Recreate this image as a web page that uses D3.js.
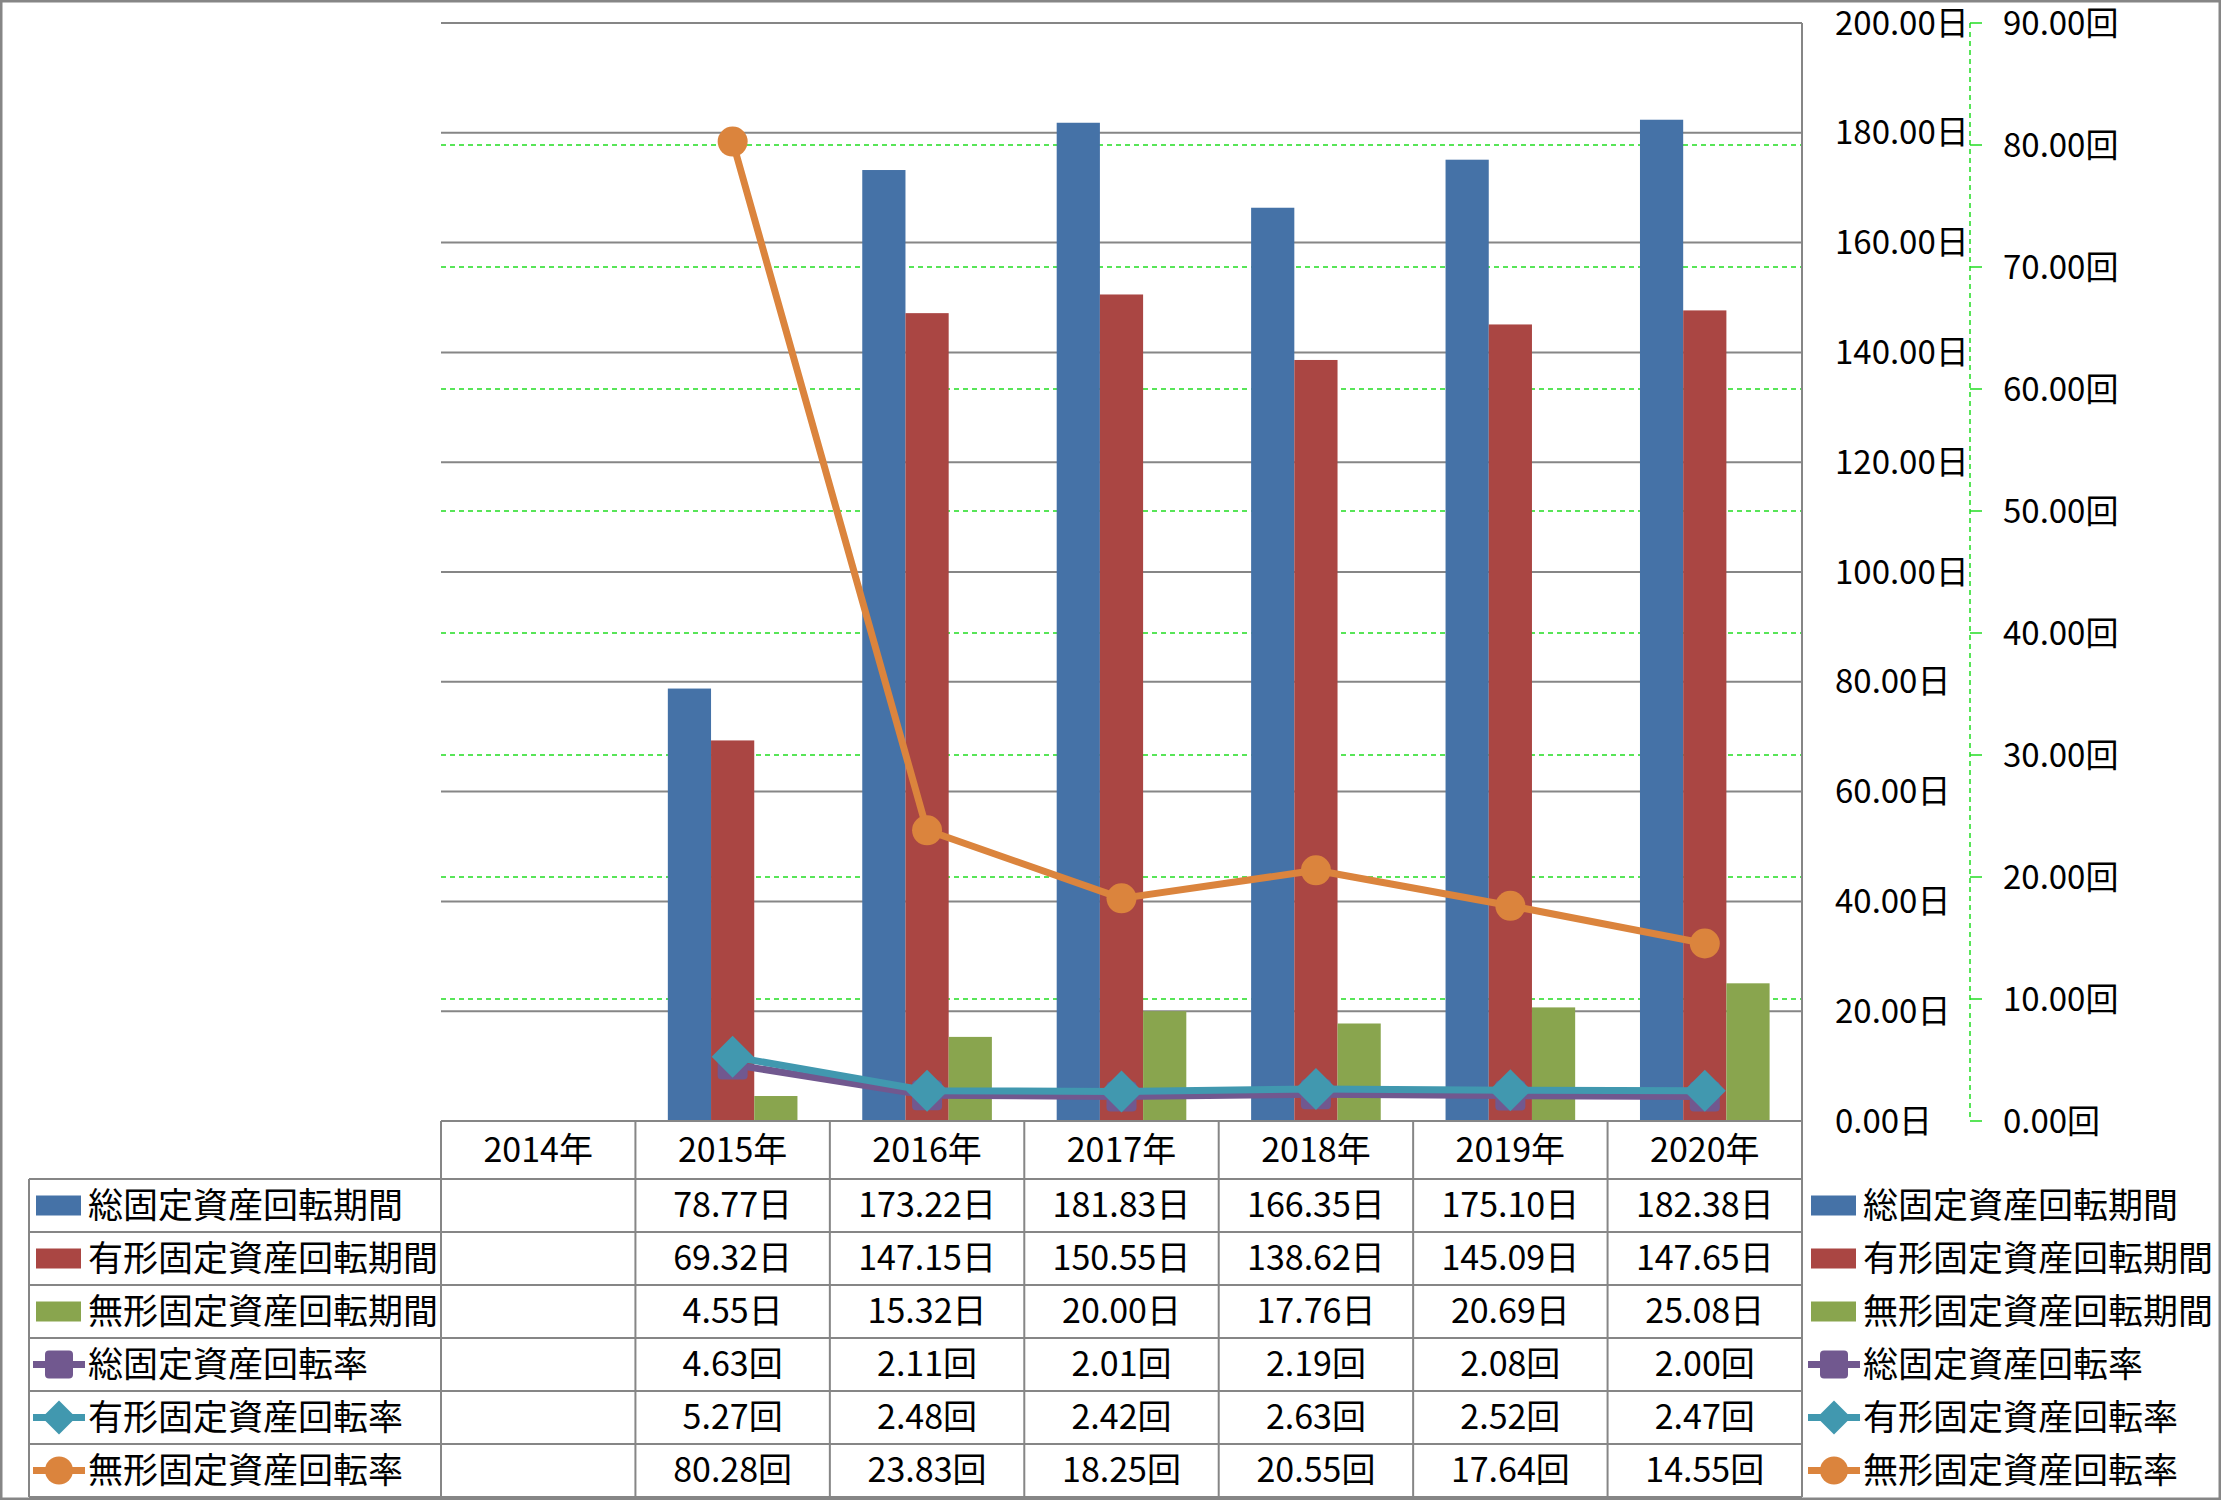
<!DOCTYPE html>
<html>
<head>
<meta charset="utf-8">
<script src="https://cdn.jsdelivr.net/npm/d3@7"></script>
<style>
  body { margin: 0; background: #fff; }
  text { font-family: "Noto Sans CJK JP", sans-serif; font-size: 34px; fill: #000; }
  text.axis { font-size: 33px; }
  text.name { font-size: 35px; }
</style>
</head>
<body>
<div id="plot"></div>
<script>
// data
var years = ["2014年", "2015年", "2016年", "2017年", "2018年", "2019年", "2020年"];
var totalPeriod    = [null, 78.77, 173.22, 181.83, 166.35, 175.10, 182.38];
var tangiblePeriod = [null, 69.32, 147.15, 150.55, 138.62, 145.09, 147.65];
var intangPeriod   = [null, 4.55, 15.32, 20.00, 17.76, 20.69, 25.08];
var totalRate      = [null, 4.63, 2.11, 2.01, 2.19, 2.08, 2.00];
var tangibleRate   = [null, 5.27, 2.48, 2.42, 2.63, 2.52, 2.47];
var intangRate     = [null, 80.28, 23.83, 18.25, 20.55, 17.64, 14.55];
var dayTicks  = [0, 20, 40, 60, 80, 100, 120, 140, 160, 180, 200];
var rateTicks = [0, 10, 20, 30, 40, 50, 60, 70, 80, 90];

var barSeries = [
  {name: "総固定資産回転期間", values: totalPeriod, color: "#4572A7"},
  {name: "有形固定資産回転期間", values: tangiblePeriod, color: "#AA4643"},
  {name: "無形固定資産回転期間", values: intangPeriod, color: "#89A54E"}
];
var lineSeries = [
  {name: "総固定資産回転率", values: totalRate, color: "#71588F", marker: "square"},
  {name: "有形固定資産回転率", values: tangibleRate, color: "#4198AF", marker: "diamond"},
  {name: "無形固定資産回転率", values: intangRate, color: "#DB843D", marker: "circle"}
];

var W = 2221, H = 1500;
var plotLeft = 441, plotRight = 1802, plotTop = 23, plotBottom = 1121;
var gray = "#868686", green = "#22dd22";

var svg = d3.select("div#plot").append("svg")
    .attr("width", W)
    .attr("height", H);

var x = d3.scaleBand().domain(years).range([plotLeft, plotRight]);
var xs = d3.scaleBand().domain(barSeries.map(d => d.name))
    .range([0, x.bandwidth()]).paddingOuter(0.75);
var yDay = d3.scaleLinear().domain([0, 200]).range([plotBottom, plotTop]);
var yRate = d3.scaleLinear().domain([0, 90]).range([plotBottom, plotTop]);

// outer frame
svg.append("rect")
    .attr("x", 1).attr("y", 1).attr("width", W - 2).attr("height", H - 2)
    .attr("fill", "none").attr("stroke", gray).attr("stroke-width", 3);

// gridlines
svg.append("g").selectAll("line")
    .data(dayTicks)
    .enter().append("line")
    .attr("x1", plotLeft).attr("x2", plotRight)
    .attr("y1", d => yDay(d)).attr("y2", d => yDay(d))
    .attr("stroke", gray).attr("stroke-width", 2);

svg.append("g").selectAll("line")
    .data(rateTicks.filter(d => d > 0 && d < 90))
    .enter().append("line")
    .attr("x1", plotLeft).attr("x2", plotRight)
    .attr("y1", d => yRate(d)).attr("y2", d => yRate(d))
    .attr("stroke", green).attr("stroke-width", 1.5)
    .attr("stroke-dasharray", "5,4");

// bars
barSeries.forEach(function(s) {
  svg.append("g").selectAll("rect")
      .data(years.map((y, i) => ({year: y, v: s.values[i]})).filter(d => d.v != null))
      .enter().append("rect")
      .attr("x", d => x(d.year) + xs(s.name))
      .attr("width", xs.bandwidth())
      .attr("y", d => yDay(d.v))
      .attr("height", d => plotBottom - yDay(d.v))
      .attr("fill", s.color);
});

function drawMarker(g, type, cx, cy, size, color) {
  if (type === "circle") {
    g.append("circle").attr("cx", cx).attr("cy", cy).attr("r", size / 2).attr("fill", color);
  } else if (type === "diamond") {
    var h = size / 2;
    g.append("path")
        .attr("d", "M" + cx + "," + (cy - h) + "L" + (cx + h) + "," + cy + "L" + cx + "," + (cy + h) + "L" + (cx - h) + "," + cy + "Z")
        .attr("fill", color);
  } else {
    g.append("rect").attr("x", cx - size / 2).attr("y", cy - size / 2)
        .attr("width", size).attr("height", size).attr("rx", 4).attr("fill", color);
  }
}

// lines on the secondary axis
var markerSize = {square: 30, diamond: 42, circle: 30};
lineSeries.forEach(function(s) {
  var pts = years.map((y, i) => ({year: y, v: s.values[i]})).filter(d => d.v != null);
  var line = d3.line()
      .x(d => x(d.year) + x.bandwidth() / 2)
      .y(d => yRate(d.v));
  var g = svg.append("g");
  g.append("path")
      .attr("d", line(pts))
      .attr("fill", "none")
      .attr("stroke", s.color)
      .attr("stroke-width", 7)
      .attr("stroke-linejoin", "round");
  pts.forEach(function(d) {
    drawMarker(g, s.marker, x(d.year) + x.bandwidth() / 2, yRate(d.v), markerSize[s.marker], s.color);
  });
});

// primary axis (days) at right of plot
svg.append("line")
    .attr("x1", plotRight).attr("x2", plotRight).attr("y1", plotTop).attr("y2", H - 3)
    .attr("stroke", gray).attr("stroke-width", 2);
svg.append("g").selectAll("text")
    .data(dayTicks)
    .enter().append("text")
    .attr("class", "axis")
    .attr("x", 1835)
    .attr("y", d => yDay(d))
    .attr("dy", "0.35em")
    .text(d => d3.format(".2f")(d) + "日");

// secondary axis (times)
var ax2 = 1970;
svg.append("line")
    .attr("x1", ax2).attr("x2", ax2).attr("y1", plotTop).attr("y2", plotBottom)
    .attr("stroke", green).attr("stroke-width", 1.5).attr("stroke-dasharray", "5,4");
svg.append("g").selectAll("line")
    .data(rateTicks)
    .enter().append("line")
    .attr("x1", ax2).attr("x2", ax2 + 12)
    .attr("y1", d => yRate(d)).attr("y2", d => yRate(d))
    .attr("stroke", green).attr("stroke-width", 1.5);
svg.append("g").selectAll("text")
    .data(rateTicks)
    .enter().append("text")
    .attr("class", "axis")
    .attr("x", 2003)
    .attr("y", d => yRate(d))
    .attr("dy", "0.35em")
    .text(d => d3.format(".2f")(d) + "回");

// data table
var headTop = plotBottom, headBottom = 1179, rowH = 53, labelLeft = 29;
var allSeries = barSeries.map(s => Object.assign({unit: "日", kind: "bar"}, s))
    .concat(lineSeries.map(s => Object.assign({unit: "回", kind: "line"}, s)));
var tableBottom = headBottom + rowH * allSeries.length;
var tg = svg.append("g");

// horizontal lines
tg.append("line").attr("x1", plotLeft).attr("x2", plotRight).attr("y1", headTop).attr("y2", headTop)
    .attr("stroke", gray).attr("stroke-width", 2);
d3.range(allSeries.length + 1).forEach(function(i) {
  var yy = headBottom + i * rowH;
  tg.append("line").attr("x1", labelLeft).attr("x2", plotRight).attr("y1", yy).attr("y2", yy)
      .attr("stroke", gray).attr("stroke-width", 2);
});
// vertical lines
tg.append("line").attr("x1", labelLeft).attr("x2", labelLeft).attr("y1", headBottom).attr("y2", tableBottom)
    .attr("stroke", gray).attr("stroke-width", 2);
years.forEach(function(y) {
  tg.append("line").attr("x1", x(y)).attr("x2", x(y)).attr("y1", headTop).attr("y2", tableBottom)
      .attr("stroke", gray).attr("stroke-width", 2);
});

// header
tg.selectAll(".head")
    .data(years)
    .enter().append("text")
    .attr("class", "head")
    .attr("x", d => x(d) + x.bandwidth() / 2)
    .attr("y", (headTop + headBottom) / 2)
    .attr("dy", "0.35em")
    .attr("text-anchor", "middle")
    .text(d => d);

function legendKey(g, s, x0, cy) {
  if (s.kind === "bar") {
    g.append("rect").attr("x", x0 + 3).attr("y", cy - 10).attr("width", 45).attr("height", 20).attr("fill", s.color);
  } else {
    g.append("line").attr("x1", x0).attr("x2", x0 + 52).attr("y1", cy).attr("y2", cy)
        .attr("stroke", s.color).attr("stroke-width", 7);
    drawMarker(g, s.marker, x0 + 26, cy, s.marker === "diamond" ? 34 : 28, s.color);
  }
}

allSeries.forEach(function(s, r) {
  var cy = headBottom + r * rowH + rowH / 2;
  legendKey(tg, s, 33, cy);
  tg.append("text").attr("class", "name").attr("x", 88).attr("y", cy).attr("dy", "0.35em").text(s.name);
  years.forEach(function(y, i) {
    if (s.values[i] == null) return;
    tg.append("text")
        .attr("x", x(y) + x.bandwidth() / 2)
        .attr("y", cy)
        .attr("dy", "0.35em")
        .attr("text-anchor", "middle")
        .text(d3.format(".2f")(s.values[i]) + s.unit);
  });
  // right legend
  legendKey(svg, s, 1808, cy);
  svg.append("text").attr("class", "name").attr("x", 1863).attr("y", cy).attr("dy", "0.35em").text(s.name);
});
</script>
</body>
</html>
